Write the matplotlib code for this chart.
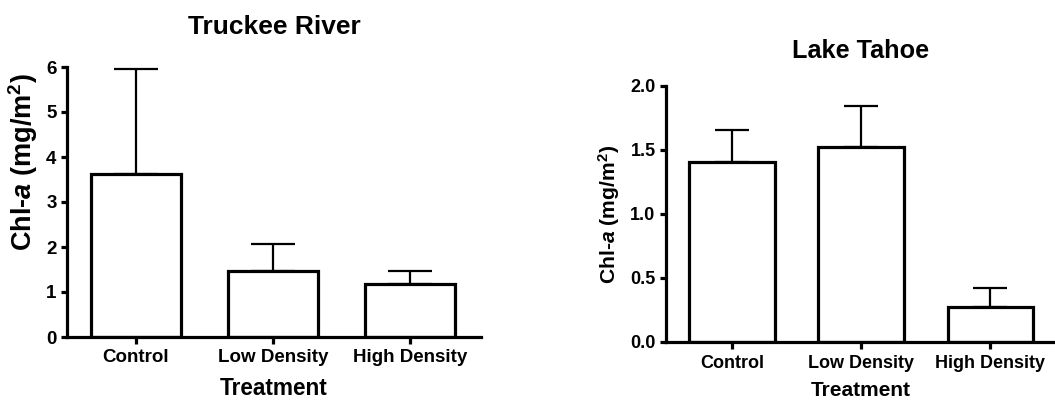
import matplotlib
matplotlib.use('Agg')
import matplotlib.pyplot as plt
import numpy as np

# bar heights and upper error
treatments = ["Control", "Low Density", "High Density"]
truckee_means = [3.62, 1.47, 1.18]
truckee_err = [2.33, 0.60, 0.29]
tahoe_means = [1.41, 1.52, 0.27]
tahoe_err = [0.25, 0.32, 0.15]
truckee_yticks = [0, 1, 2, 3, 4, 5, 6]
tahoe_yticks = [0.0, 0.5, 1.0, 1.5, 2.0]

plt.rcParams['font.family'] = ['Liberation Sans', 'DejaVu Sans']
plt.rcParams['font.weight'] = 'bold'
plt.rcParams['mathtext.fontset'] = 'custom'
plt.rcParams['mathtext.rm'] = 'Liberation Sans:bold'
plt.rcParams['mathtext.bf'] = 'Liberation Sans:bold'
plt.rcParams['mathtext.it'] = 'Liberation Sans:italic:bold'
plt.rcParams['mathtext.bfit'] = 'Liberation Sans:italic:bold'

W, H = 1055, 400
fig = plt.figure(figsize=(W / 100, H / 100), dpi=100)


def px_axes(l, r, t, b):
    return fig.add_axes([l / W, 1 - b / H, (r - l) / W, (b - t) / H])


def draw_panel(ax, means, err, yticks, fmt, title, title_pad, ylabel_size, ylabel_pos,
               capsize, xlim, ylim, tick_size, xlabel_size, xlabel_pad, title_size):
    x = np.arange(len(treatments))
    ax.bar(x, means, width=0.66, color='white', edgecolor='black', linewidth=2.3, zorder=2)
    ax.errorbar(x, means, yerr=[np.zeros(len(err)), err], fmt='none', ecolor='black',
                elinewidth=1.6, capsize=capsize, capthick=1.6, zorder=1)
    ax.set_xlim(*xlim)
    ax.set_ylim(*ylim)
    ax.set_xticks(x)
    ax.set_xticklabels(treatments, fontsize=tick_size, fontweight='bold')
    ax.set_yticks(yticks)
    ax.set_yticklabels([fmt.format(v) for v in yticks], fontsize=tick_size, fontweight='bold')
    for s in ['top', 'right']:
        ax.spines[s].set_visible(False)
    for s in ['left', 'bottom']:
        ax.spines[s].set_linewidth(2.3)
    ax.tick_params(axis='both', width=2.3, length=4.5, pad=3)
    ax.tick_params(axis='x', length=5, pad=4)
    ax.set_xlabel("Treatment", fontsize=xlabel_size, fontweight='bold', labelpad=xlabel_pad)
    ax.set_ylabel(r"Chl-$\mathbfit{a}$ (mg/m$^{\mathbf{2}}$)", fontsize=ylabel_size,
                  fontweight='bold')
    ax.yaxis.set_label_coords(*ylabel_pos)
    ax.set_title(title, fontsize=title_size, fontweight='bold', pad=title_pad)


ax1 = px_axes(67, 481, 67, 337)
draw_panel(ax1, truckee_means, truckee_err, truckee_yticks, "{:d}", "Truckee River", 24,
           19.5, (-0.066, 0.648), 16, (-0.504, 2.52), (0, 6), 13.5, 16.3, 7.5, 19)

ax2 = px_axes(666, 1055, 86, 342)
draw_panel(ax2, tahoe_means, tahoe_err, tahoe_yticks, "{:.1f}", "Lake Tahoe", 20,
           15.2, (-0.114, 0.5), 12, (-0.51, 2.5), (0, 2.0), 13, 15, 7, 18.2)

fig.savefig("out.png", dpi=100)
